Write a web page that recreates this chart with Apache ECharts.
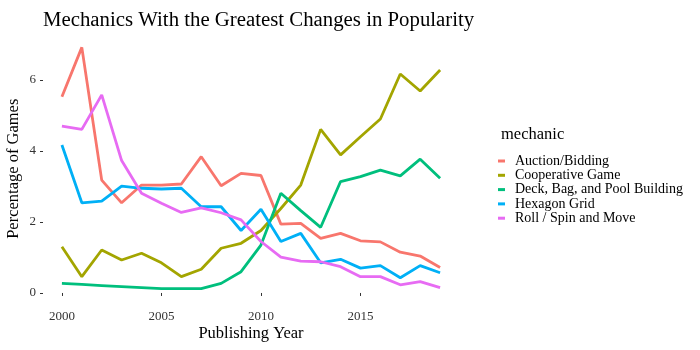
<!DOCTYPE html>
<html>
<head>
<meta charset="utf-8">
<script src="https://cdn.jsdelivr.net/npm/echarts@6/dist/echarts.min.js"></script>
<style>
  html, body { margin: 0; padding: 0; background: #fff; }
  #chart { width: 700px; height: 350px; }
</style>
</head>
<body>
<div id="chart"></div>
<script>
var years = [2000, 2001, 2002, 2003, 2004, 2005, 2006, 2007, 2008, 2009,
             2010, 2011, 2012, 2013, 2014, 2015, 2016, 2017, 2018, 2019];

var mechanics = ['Auction/Bidding', 'Cooperative Game', 'Deck, Bag, and Pool Building',
                 'Hexagon Grid', 'Roll / Spin and Move'];

var auction = [5.53, 6.92, 3.18, 2.54, 3.04, 3.04, 3.07, 3.84, 3.02, 3.37,
               3.31, 1.94, 1.96, 1.54, 1.68, 1.47, 1.44, 1.15, 1.04, 0.72];
var cooperative = [1.30, 0.46, 1.21, 0.93, 1.12, 0.85, 0.46, 0.67, 1.26, 1.40,
                   1.76, 2.38, 3.04, 4.61, 3.89, 4.40, 4.90, 6.17, 5.69, 6.28];
var deck = [0.27, 0.24, 0.21, 0.18, 0.15, 0.12, 0.12, 0.12, 0.27, 0.60,
            1.35, 2.81, 2.32, 1.85, 3.14, 3.28, 3.46, 3.30, 3.77, 3.23];
var hexagon = [4.17, 2.54, 2.59, 3.01, 2.95, 2.93, 2.95, 2.43, 2.43, 1.76,
               2.36, 1.45, 1.68, 0.85, 0.95, 0.70, 0.77, 0.43, 0.77, 0.57];
var rollMove = [4.70, 4.61, 5.58, 3.73, 2.81, 2.53, 2.27, 2.40, 2.26, 2.06,
                1.45, 1.01, 0.90, 0.88, 0.74, 0.46, 0.46, 0.23, 0.32, 0.15];

var xTicks = [2000, 2005, 2010, 2015];
var yTicks = [0, 2, 4, 6];

var colors = ['#F8766D', '#A3A500', '#00BF7D', '#00B0F6', '#E76BF3'];
var allSeries = [auction, cooperative, deck, hexagon, rollMove];

var serif = '"Liberation Serif", "DejaVu Serif", serif';

function pairs(values) {
  return years.map(function (y, i) { return [y, values[i]]; });
}

var chart = echarts.init(document.getElementById('chart'));

var option = {
  animation: false,
  color: colors,
  textStyle: { fontFamily: serif },
  title: [
    {
      text: 'Mechanics With the Greatest Changes in Popularity',
      left: 38, top: 5,
      textStyle: { fontFamily: serif, fontSize: 20.8, fontWeight: 'normal', color: '#000' }
    },
    {
      text: 'mechanic',
      left: 496, top: 121,
      textStyle: { fontFamily: serif, fontSize: 16.5, fontWeight: 'normal', color: '#000' }
    }
  ],
  legend: {
    orient: 'vertical',
    left: 493, top: 149,
    icon: 'rect',
    itemWidth: 7, itemHeight: 3,
    itemGap: 0.3,
    data: mechanics,
    textStyle: { fontFamily: serif, fontSize: 14, lineHeight: 12, color: '#000', padding: [0, 0, 0, 5] }
  },
  grid: { left: 43, right: 241, top: 36, bottom: 48.5, outerBoundsMode: 'none', containLabel: false },
  xAxis: {
    type: 'value',
    min: 1999.05, max: 2019.95,
    name: 'Publishing Year',
    nameLocation: 'middle',
    nameGap: 24,
    nameMoveOverlap: false,
    nameTextStyle: { fontFamily: serif, fontSize: 16.5, color: '#000' },
    axisLine: { show: false },
    splitLine: { show: false },
    axisTick: { show: true, customValues: xTicks, length: 3, lineStyle: { color: '#333' } },
    axisLabel: {
      customValues: xTicks, fontFamily: serif, fontSize: 13, color: '#333', margin: 9,
      formatter: function (v) { return String(v); }
    }
  },
  yAxis: {
    type: 'value',
    min: -0.24, max: 7.24,
    name: 'Percentage of Games',
    nameLocation: 'middle',
    nameGap: 21,
    nameMoveOverlap: false,
    nameTextStyle: { fontFamily: serif, fontSize: 16.5, color: '#000' },
    axisLine: { show: false },
    splitLine: { show: false },
    axisTick: { show: true, customValues: yTicks, length: 3, lineStyle: { color: '#333' } },
    axisLabel: { customValues: yTicks, fontFamily: serif, fontSize: 13, color: '#333', margin: 7 }
  },
  series: mechanics.map(function (name, i) {
    return {
      name: name,
      type: 'line',
      data: pairs(allSeries[i]),
      showSymbol: false,
      symbol: 'none',
      lineStyle: { width: 2.8, color: colors[i] }
    };
  })
};

chart.setOption(option);
</script>
</body>
</html>
